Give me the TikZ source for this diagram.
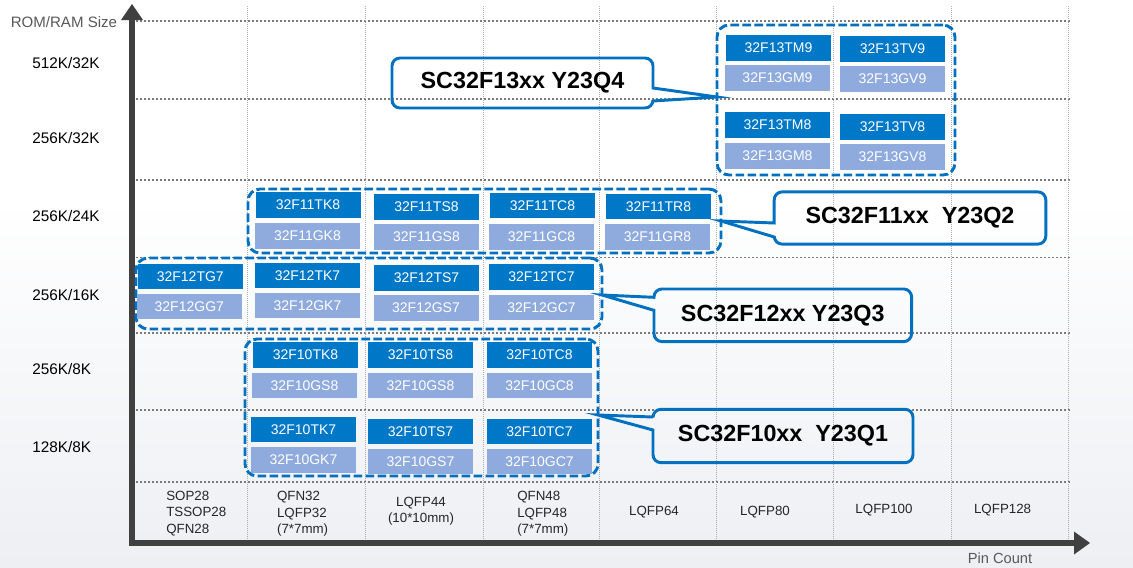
\documentclass[tikz,border=0pt]{standalone}
\usepackage{fontspec}
\setmainfont{Liberation Sans}
\usetikzlibrary{calc}
\definecolor{chipdark}{HTML}{0078C8}
\definecolor{chiplight}{HTML}{8FAADC}
\definecolor{callblue}{HTML}{0070C0}
\definecolor{axisgray}{HTML}{404040}
\definecolor{gridh}{HTML}{7A7A7A}
\definecolor{gridv}{HTML}{ABABAB}
\definecolor{labgray}{HTML}{595959}
\definecolor{bgbot}{HTML}{EDEFF3}
\begin{document}
\begin{tikzpicture}[x=0.75pt,y=-0.75pt,
  chipT/.style={fill=chipdark,text=white,minimum width=78.75pt,minimum height=19pt,inner sep=0pt,outer sep=0pt,font=\fontsize{10.5}{12}\selectfont},
  chipG/.style={chipT,fill=chiplight},
  grpbox/.style={draw=callblue,line width=2.2pt,dash pattern=on 6.5pt off 2.5pt,rounded corners=9pt,inner sep=0pt,outer sep=0pt},
  calloutbox/.style={inner sep=0pt,outer sep=0pt,font=\bfseries\fontsize{17.5}{21}\selectfont},
  callline/.style={draw=callblue,line width=2.2pt,line join=miter},
  hgrid/.style={draw=gridh,line width=1.4pt,dash pattern=on 1.4pt off 1.6pt},
  vgrid/.style={draw=gridv,line width=0.7pt,dash pattern=on 0.75pt off 0.75pt},
  ylab/.style={anchor=west,inner sep=0pt,font=\fontsize{11.5}{13}\selectfont},
  xlab/.style={inner sep=0pt,font=\fontsize{10}{12.4}\selectfont,text=black!85},
  axisline/.style={draw=axisgray,line width=4.5pt},
]
\useasboundingbox (0,0) rectangle (1133,568);
\fill[white] (0,0) rectangle (1133,568);
\shade[top color=white,bottom color=bgbot] (0,200) rectangle (1133,568);

% grid
\foreach \y in {20.7,99,180,257.5,333,410,482} \draw[hgrid] (136,\y) -- (1070,\y);
\foreach \x in {247,365,483,599,716,833,951,1068} \draw[vgrid] (\x,6) -- (\x,543);

% axes
\coordinate (ytip) at (132,4);
\coordinate (xtip) at (1090,543);
\draw[axisline] (132,546) -- (132,18);
\draw[axisline] (129.75,543) -- (1076,543);
\fill[axisgray] (ytip) -- (121,20) -- (143,20) -- cycle;
\fill[axisgray] (xtip) -- (1074,531.5) -- (1074,554.5) -- cycle;

% groups
\node[grpbox,minimum width=178.5pt,minimum height=112.5pt] (g13) at (836,100) {};
\node[grpbox,minimum width=354.75pt,minimum height=48pt] (g11) at (484.5,221) {};
\node[grpbox,minimum width=349.5pt,minimum height=53.25pt] (g12) at (369,293.5) {};
\node[grpbox,minimum width=264.75pt,minimum height=102.75pt] (g10) at (421.5,407.5) {};

% F13 chips
\node[chipT] (tm9) at (778.5,48) {32F13TM9};
\node[chipG] (gm9) at (777.5,78) {32F13GM9};
\node[chipT] (tv9) at (892.5,49) {32F13TV9};
\node[chipG] (gv9) at (892.5,79) {32F13GV9};
\node[chipT] (tm8) at (777.5,125) {32F13TM8};
\node[chipG] (gm8) at (777.5,156) {32F13GM8};
\node[chipT] (tv8) at (892.5,127) {32F13TV8};
\node[chipG] (gv8) at (892.5,157) {32F13GV8};

% F11 chips
\node[chipT] (e11tk8) at (308,205) {32F11TK8};
\node[chipG] (e11gk8) at (307.5,236) {32F11GK8};
\node[chipT] (e11ts8) at (426.5,207) {32F11TS8};
\node[chipG] (e11gs8) at (426.5,237) {32F11GS8};
\node[chipT] (e11tc8) at (542.5,205.5) {32F11TC8};
\node[chipG] (e11gc8) at (541.5,237) {32F11GC8};
\node[chipT] (e11tr8) at (658.5,206.5) {32F11TR8};
\node[chipG] (e11gr8) at (657.5,237) {32F11GR8};

% F12 chips
\node[chipT] (e12tg7) at (190.3,276.5) {32F12TG7};
\node[chipG] (e12gg7) at (189.3,306.5) {32F12GG7};
\node[chipT] (e12tk7) at (307.5,275.5) {32F12TK7};
\node[chipG] (e12gk7) at (307.5,305.5) {32F12GK7};
\node[chipT] (e12ts7) at (426.5,278) {32F12TS7};
\node[chipG] (e12gs7) at (426,308) {32F12GS7};
\node[chipT] (e12tc7) at (541.5,277) {32F12TC7};
\node[chipG] (e12gc7) at (541.5,307.5) {32F12GC7};

% F10 chips
\node[chipT] (e10tk8) at (305.5,355) {32F10TK8};
\node[chipG] (e10gs8a) at (304.5,385.5) {32F10GS8};
\node[chipT] (e10ts8) at (420.5,355) {32F10TS8};
\node[chipG] (e10gs8b) at (420.5,385.5) {32F10GS8};
\node[chipT] (e10tc8) at (539.5,355) {32F10TC8};
\node[chipG] (e10gc8) at (539.5,385.5) {32F10GC8};
\node[chipT] (e10tk7) at (303.5,429.5) {32F10TK7};
\node[chipG] (e10gk7) at (303.5,460) {32F10GK7};
\node[chipT] (e10ts7) at (420.5,431.5) {32F10TS7};
\node[chipG] (e10gs7) at (420.5,461.5) {32F10GS7};
\node[chipT] (e10tc7) at (539.5,431.5) {32F10TC7};
\node[chipG] (e10gc7) at (539.5,461.5) {32F10GC7};

% callouts
\node[calloutbox,minimum width=195.75pt,minimum height=37.5pt] (c13) at (522.5,83) {SC32F13xx Y23Q4};
\node[calloutbox,minimum width=203.7pt,minimum height=39.2pt] (c11) at (910,218) {SC32F11xx\ \ Y23Q2};
\node[calloutbox,minimum width=193.2pt,minimum height=39.5pt] (c12) at (782.8,315.3) {SC32F12xx Y23Q3};
\node[calloutbox,minimum width=195pt,minimum height=40pt] (c10) at (783,436) {SC32F10xx\ \ Y23Q1};

% F13 callout (pointer right)
\draw[callline] ([xshift=6pt]c13.north west) -- ([xshift=-6pt]c13.north east)
  arc[start angle=90,end angle=0,radius=6pt] -- ($(c13.east)+(0,5)$) -- ($(g13.west)+(0,-3)$)
  -- ($(c13.east)+(0,18)$) -- ([yshift=6pt]c13.south east)
  arc[start angle=0,end angle=-90,radius=6pt] -- ([xshift=6pt]c13.south west)
  arc[start angle=270,end angle=180,radius=6pt] -- ([yshift=-6pt]c13.north west)
  arc[start angle=180,end angle=90,radius=6pt] -- cycle;

% F11 callout (pointer left)
\draw[callline] ([xshift=6pt]c11.north west) -- ([xshift=-6pt]c11.north east)
  arc[start angle=90,end angle=0,radius=6pt] -- ([yshift=6pt]c11.south east)
  arc[start angle=0,end angle=-90,radius=6pt] -- ([xshift=6pt]c11.south west)
  arc[start angle=270,end angle=180,radius=6pt] -- ($(c11.west)+(0,19)$) -- (g11.east)
  -- ($(c11.west)+(0,5)$) -- ([yshift=-6pt]c11.north west)
  arc[start angle=180,end angle=90,radius=6pt] -- cycle;

% F12 callout
\draw[callline] ([xshift=6pt]c12.north west) -- ([xshift=-6pt]c12.north east)
  arc[start angle=90,end angle=0,radius=6pt] -- ([yshift=6pt]c12.south east)
  arc[start angle=0,end angle=-90,radius=6pt] -- ([xshift=6pt]c12.south west)
  arc[start angle=270,end angle=180,radius=6pt] -- ($(c12.west)+(0,-5)$) -- ($(g12.east)+(0,1.5)$)
  -- ($(c12.west)+(0,-18)$) -- ([yshift=-6pt]c12.north west)
  arc[start angle=180,end angle=90,radius=6pt] -- cycle;

% F10 callout
\draw[callline] ([xshift=6pt]c10.north west) -- ([xshift=-6pt]c10.north east)
  arc[start angle=90,end angle=0,radius=6pt] -- ([yshift=6pt]c10.south east)
  arc[start angle=0,end angle=-90,radius=6pt] -- ([xshift=6pt]c10.south west)
  arc[start angle=270,end angle=180,radius=6pt] -- ($(c10.west)+(0,-6)$) -- ($(g10.east)+(0,7.5)$)
  -- ($(c10.west)+(0,-19)$) -- ([yshift=-6pt]c10.north west)
  arc[start angle=180,end angle=90,radius=6pt] -- cycle;

% axis titles
\node[inner sep=0pt,anchor=west,text=labgray,font=\fontsize{11.3}{13}\selectfont] (ytitle) at (10.5,22.5) {ROM/RAM Size};
\node[inner sep=0pt,text=labgray,font=\fontsize{11}{13}\selectfont] (xtitle) at (1000,558) {Pin Count};

% y labels
\node[ylab] (y1) at (32,63) {512K/32K};
\node[ylab] (y2) at (32,137.7) {256K/32K};
\node[ylab] (y3) at (32,216) {256K/24K};
\node[ylab] (y4) at (32,295) {256K/16K};
\node[ylab] (y5) at (32,369.3) {256K/8K};
\node[ylab] (y6) at (32,446.7) {128K/8K};

% x labels
\node[xlab,anchor=west,align=left] (x1) at (166,513.5) {SOP28\\TSSOP28\\QFN28};
\node[xlab,anchor=west,align=left] (x2) at (276.8,514) {QFN32\\LQFP32\\(7*7mm)};
\node[xlab,align=center] (x3) at (421,511) {LQFP44\\(10*10mm)};
\node[xlab,anchor=west,align=left] (x4) at (517,514) {QFN48\\LQFP48\\(7*7mm)};
\node[xlab] (x5) at (654,511.7) {LQFP64};
\node[xlab] (x6) at (765,511.7) {LQFP80};
\node[xlab] (x7) at (884,510) {LQFP100};
\node[xlab] (x8) at (1002.6,510) {LQFP128};
\end{tikzpicture}
\end{document}
